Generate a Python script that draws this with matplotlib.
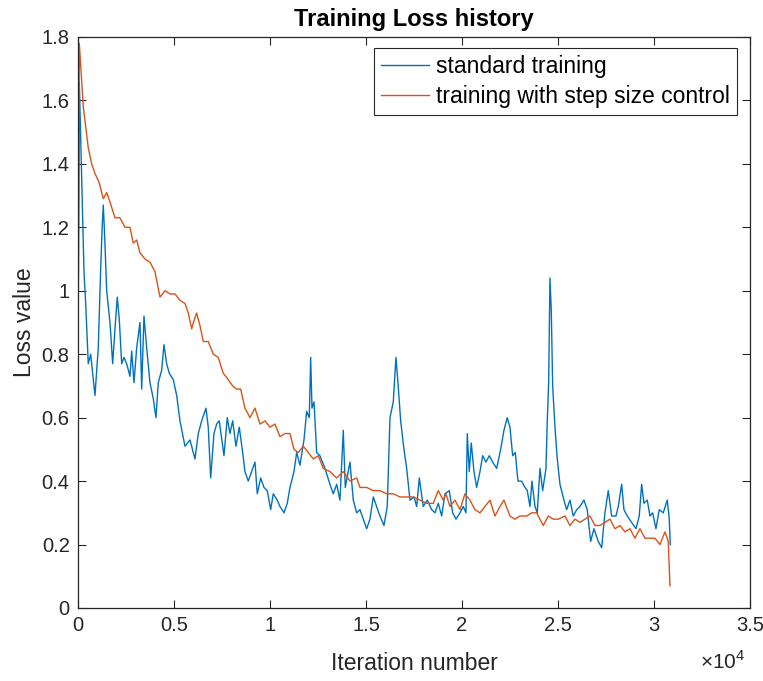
import numpy as np
import matplotlib
matplotlib.use("Agg")
import matplotlib.pyplot as plt
from matplotlib.ticker import FuncFormatter

plt.rcParams['font.family'] = ['Liberation Sans', 'DejaVu Sans']
plt.rcParams['mathtext.fontset'] = 'custom'
plt.rcParams['mathtext.rm'] = 'Liberation Sans'

# values (iteration, loss)
std_iter = [0, 68, 193, 313, 401, 536, 661, 885, 1057, 1182, 1266, 1318, 1391, 1495,
            1667, 1807, 1927, 2047, 2151, 2276, 2396, 2536, 2708, 2797, 2917, 3057,
            3229, 3318, 3437, 3578, 3750, 3922, 4062, 4182, 4359, 4479, 4620, 4755,
            4963, 5141, 5312, 5573, 5833, 6094, 6266, 6443, 6667, 6786, 6911, 7083,
            7224, 7359, 7604, 7776, 7917, 8057, 8229, 8401, 8578, 8698, 8870, 9047,
            9219, 9339, 9516, 9687, 9859, 10036, 10172, 10380, 10521, 10729, 10901,
            11042, 11250, 11391, 11563, 11771, 11911, 12047, 12120, 12188, 12292,
            12432, 12604, 12865, 13125, 13297, 13474, 13646, 13818, 13922, 14167,
            14339, 14516, 14688, 14859, 15036, 15208, 15380, 15557, 15729, 15937,
            16109, 16250, 16422, 16562, 16667, 16807, 16979, 17120, 17292, 17500,
            17641, 17776, 17984, 18193, 18422, 18594, 18766, 18943, 19115, 19339,
            19516, 19688, 19896, 20068, 20208, 20276, 20380, 20484, 20625, 20766,
            20938, 21078, 21250, 21422, 21599, 21807, 22016, 22187, 22359, 22500,
            22641, 22776, 22917, 23109, 23281, 23401, 23542, 23646, 23802, 23922,
            24062, 24203, 24375, 24443, 24516, 24583, 24651, 24724, 24844, 24964,
            25104, 25312, 25453, 25625, 25797, 25974, 26146, 26354, 26526, 26703,
            26875, 27099, 27276, 27448, 27620, 27797, 28021, 28141, 28318, 28437,
            28609, 28839, 29062, 29234, 29359, 29479, 29651, 29792, 29932, 30104,
            30276, 30484, 30693, 30797, 30849]
std_loss = [0.72, 1.66, 1.35, 1.06, 0.96, 0.77, 0.80, 0.67, 0.82, 1.07, 1.21, 1.27, 1.17, 1.00,
            0.90, 0.77, 0.88, 0.98, 0.91, 0.77, 0.79, 0.77, 0.73, 0.81, 0.71, 0.82,
            0.90, 0.69, 0.92, 0.82, 0.71, 0.66, 0.60, 0.71, 0.75, 0.83, 0.77, 0.74,
            0.72, 0.67, 0.59, 0.51, 0.53, 0.47, 0.55, 0.59, 0.63, 0.57, 0.41, 0.55,
            0.58, 0.59, 0.48, 0.60, 0.55, 0.59, 0.51, 0.57, 0.49, 0.43, 0.40, 0.43,
            0.46, 0.36, 0.41, 0.38, 0.37, 0.31, 0.36, 0.34, 0.32, 0.30, 0.33,
            0.38, 0.43, 0.49, 0.45, 0.53, 0.62, 0.60, 0.79, 0.63, 0.65,
            0.49, 0.48, 0.44, 0.39, 0.36, 0.39, 0.34, 0.56, 0.38, 0.46,
            0.34, 0.30, 0.31, 0.28, 0.25, 0.28, 0.35, 0.32, 0.29, 0.26,
            0.32, 0.60, 0.65, 0.79, 0.71, 0.59, 0.50, 0.44, 0.34, 0.35,
            0.32, 0.41, 0.32, 0.34, 0.31, 0.30, 0.33, 0.29, 0.36, 0.37,
            0.30, 0.28, 0.30, 0.32, 0.30, 0.55, 0.43, 0.52, 0.43, 0.38,
            0.43, 0.48, 0.46, 0.48, 0.46, 0.44, 0.50, 0.56, 0.60, 0.57,
            0.48, 0.49, 0.40, 0.40, 0.38, 0.37, 0.32, 0.40, 0.32, 0.30,
            0.44, 0.37, 0.44, 0.59, 0.71, 1.04, 0.94, 0.70, 0.57, 0.47,
            0.39, 0.34, 0.31, 0.34, 0.29, 0.31, 0.32, 0.34, 0.31, 0.21,
            0.25, 0.21, 0.19, 0.30, 0.37, 0.29, 0.29, 0.32, 0.39, 0.31,
            0.29, 0.27, 0.25, 0.29, 0.39, 0.33, 0.34, 0.29, 0.30, 0.25,
            0.31, 0.30, 0.34, 0.28, 0.20]

ssc_iter = [0, 68, 193, 276, 417, 536, 714, 885, 1109, 1318, 1495, 1667, 1927, 2187,
            2448, 2708, 2880, 3057, 3229, 3490, 3750, 4010, 4271, 4531, 4792, 5052,
            5312, 5573, 5745, 5922, 6010, 6182, 6354, 6526, 6786, 7047, 7307, 7568,
            7828, 8057, 8266, 8474, 8698, 8958, 9219, 9479, 9740, 10000, 10260,
            10521, 10781, 11042, 11250, 11474, 11734, 11995, 12255, 12516, 12776,
            13125, 13474, 13818, 14167, 14516, 14688, 15036, 15380, 15729, 16078,
            16422, 16771, 17120, 17464, 17812, 18161, 18505, 18766, 19026, 19167,
            19375, 19635, 19896, 20156, 20417, 20677, 20937, 21198, 21458, 21719,
            21979, 22187, 22500, 22760, 23021, 23370, 23630, 23890, 24234, 24495,
            24755, 25016, 25365, 25625, 25885, 26146, 26406, 26667, 26927, 27187,
            27448, 27708, 27969, 28229, 28490, 28750, 29010, 29271, 29531, 29792,
            30052, 30312, 30573, 30745, 30833]
ssc_loss = [0.78, 1.78, 1.66, 1.58, 1.51, 1.45, 1.40, 1.37, 1.34, 1.29, 1.31, 1.28, 1.23, 1.23,
            1.20, 1.20, 1.15, 1.16, 1.12, 1.10, 1.09, 1.06, 0.98, 1.00, 0.99, 0.99,
            0.97, 0.96, 0.93, 0.88, 0.90, 0.93, 0.89, 0.84, 0.84, 0.80, 0.79, 0.74,
            0.72, 0.70, 0.69, 0.69, 0.63, 0.60, 0.63, 0.58, 0.59, 0.57, 0.58,
            0.54, 0.55, 0.55, 0.50, 0.49, 0.51, 0.49, 0.47, 0.48, 0.44,
            0.43, 0.41, 0.43, 0.40, 0.41, 0.38, 0.38, 0.37, 0.37, 0.36,
            0.36, 0.35, 0.35, 0.35, 0.34, 0.33, 0.33, 0.37, 0.34, 0.36,
            0.32, 0.34, 0.31, 0.36, 0.34, 0.31, 0.30, 0.32, 0.34, 0.29,
            0.32, 0.34, 0.29, 0.28, 0.29, 0.29, 0.30, 0.30, 0.26, 0.29,
            0.28, 0.28, 0.29, 0.26, 0.28, 0.27, 0.28, 0.29, 0.26, 0.26,
            0.27, 0.28, 0.25, 0.26, 0.24, 0.25, 0.22, 0.25, 0.22, 0.22,
            0.22, 0.20, 0.24, 0.21, 0.07]

x_ticks = [0, 5000, 10000, 15000, 20000, 25000, 30000, 35000]
y_ticks = [0, 0.2, 0.4, 0.6, 0.8, 1.0, 1.2, 1.4, 1.6, 1.8]

fig = plt.figure(figsize=(7.63, 6.81), dpi=100)
ax = fig.add_axes([0.1022, 0.1072, 0.8807, 0.8385])

ax.plot(std_iter, std_loss, color='#0072BD', lw=1.0, label='standard training')
ax.plot(ssc_iter, ssc_loss, color='#D95319', lw=1.0, label='training with step size control')

ax.set_xlim(0, 35000)
ax.set_ylim(0, 1.8)
ax.set_xticks(x_ticks)
ax.set_yticks(y_ticks)
ax.xaxis.set_major_formatter(FuncFormatter(lambda v, p: '%g' % (v / 1e4)))
ax.yaxis.set_major_formatter(FuncFormatter(lambda v, p: '%g' % v))
ax.tick_params(direction='in', length=6, width=0.8, colors='#262626',
               labelsize=14.5, top=True, right=True, pad=6)
for s in ax.spines.values():
    s.set_color('#262626')
    s.set_linewidth(0.9)

ax.set_title('Training Loss history', fontsize=17, fontweight='bold', pad=8)
ax.set_xlabel('Iteration number', fontsize=16.5, color='#262626', labelpad=12)
ax.set_ylabel('Loss value', fontsize=16.5, color='#262626', labelpad=4)
fig.text(0.977, 0.012, r'$\times10^{4}$', fontsize=15, color='#262626',
         ha='right', va='bottom')

leg = ax.legend(loc='upper right', bbox_to_anchor=(0.9807, 0.9807), borderaxespad=0,
                fontsize=16.5, fancybox=False, framealpha=1, edgecolor='#262626',
                handlelength=2.1, handletextpad=0.3, labelspacing=0.3, borderpad=0.3)
leg.get_frame().set_linewidth(0.8)

fig.savefig('out.png', dpi=100)
